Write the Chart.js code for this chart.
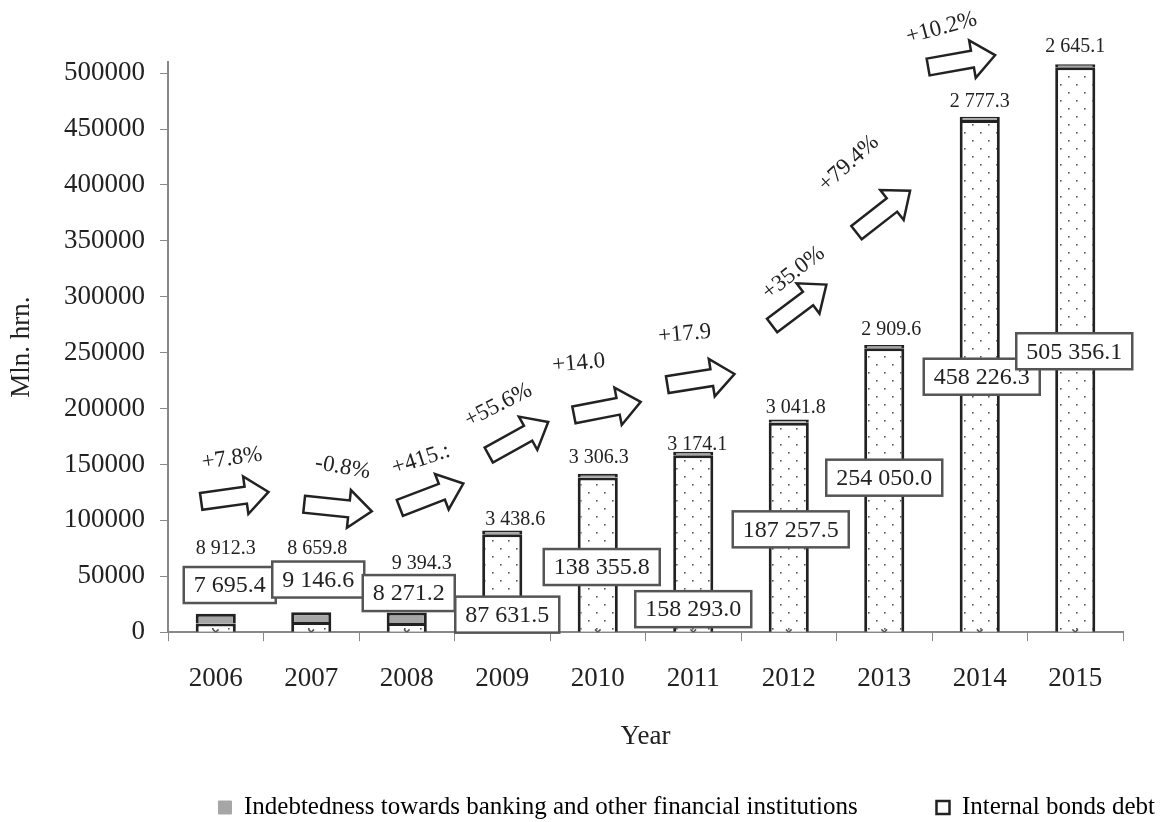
<!DOCTYPE html>
<html>
<head>
<meta charset="utf-8">
<script src="https://cdn.jsdelivr.net/npm/chart.js@4.4.1/dist/chart.umd.min.js"></script>
<style>
  body { margin: 0; background: #fff; }
  #wrap { width: 1168px; height: 822px; }
</style>
</head>
<body>
<div id="wrap"><canvas id="debtChart" width="1168" height="822"></canvas></div>
<script>
// Данные
const years = ["2006", "2007", "2008", "2009", "2010", "2011", "2012", "2013", "2014", "2015"];
const internalBonds = [7695.4, 9146.6, 8271.2, 87631.5, 138355.8, 158293.0, 187257.5, 254050.0, 458226.3, 505356.1];
const bankDebt = [8912.3, 8659.8, 9394.3, 3438.6, 3306.3, 3174.1, 3041.8, 2909.6, 2777.3, 2645.1];
const otherDebt = [0, 0, 0, 0, 0, 0, 0, 0, 0, 0];
const growthLabels = ["+7.8%", "-0.8%", "+415.:", "+55.6%", "+14.0", "+17.9", "+35.0%", "+79.4%", "+10.2%"];
const yTickValues = [0, 50000, 100000, 150000, 200000, 250000, 300000, 350000, 400000, 450000, 500000];

// Раскладка подписей: [сдвиг по x в px, уровень по оси y]
const bondBoxPos = [[14, 42200], [7, 47100], [2, 35000], [5, 15700], [4, 58300], [0, 20600], [2, 92000], [0, 138200], [2, 228500], [-1, 251300]];
const bankLabelPos = [[10, 74500], [6, 74500], [15, 61000], [13, 100500], [1, 156200], [4, 167900], [7, 201000], [7, 270200], [0, 474000], [0, 523300]];
// Стрелки и проценты: [позиция по категориям, уровень, угол]
const arrowPos = [[0.2, 121200, -8], [1.28, 111300, 6], [2.26, 122100, -21], [3.17, 173200, -29], [4.1, 200200, -11], [5.08, 226200, -9], [6.11, 292600, -37], [6.99, 376100, -38], [7.81, 510800, -10]];
const growthPos = [[0.17, 155300, -8], [1.33, 147200, 10], [2.15, 154400, -18], [2.96, 202900, -27], [3.8, 240600, -5], [4.91, 266600, -5], [6.05, 321400, -38], [6.63, 419200, -42], [7.6, 540400, -15]];

const FONT = '"Liberation Serif", "Times New Roman", serif';
const INK = "#222";

Chart.defaults.font.family = FONT;
Chart.defaults.color = INK;

// 7695.4 -> "7 695.4"
function fmt(v) {
  const [i, d] = v.toFixed(1).split(".");
  return i.replace(/\B(?=(\d{3})+(?!\d))/g, " ") + "." + d;
}

// Точечная заливка для облигаций
function makeDots() {
  const c = document.createElement("canvas");
  c.width = 16;
  c.height = 16;
  const g = c.getContext("2d");
  g.fillStyle = "#fff";
  g.fillRect(0, 0, 16, 16);
  g.fillStyle = "#555";
  g.fillRect(4, 4, 1.6, 1.6);
  g.fillRect(12, 12, 1.6, 1.6);
  return g.createPattern(c, "repeat");
}

function drawArrow(ctx, cx, cy, angle) {
  ctx.save();
  ctx.translate(cx, cy);
  ctx.rotate((angle * Math.PI) / 180);
  ctx.beginPath();
  ctx.moveTo(-34, -8.5);
  ctx.lineTo(11, -8.5);
  ctx.lineTo(11, -19);
  ctx.lineTo(34, 0);
  ctx.lineTo(11, 19);
  ctx.lineTo(11, 8.5);
  ctx.lineTo(-34, 8.5);
  ctx.closePath();
  ctx.fillStyle = "#fff";
  ctx.fill();
  ctx.lineWidth = 2.5;
  ctx.strokeStyle = INK;
  ctx.stroke();
  ctx.restore();
}

const annotations = {
  id: "annotations",
  afterDatasetsDraw(chart) {
    const { ctx, scales: { x, y } } = chart;
    ctx.save();
    ctx.textAlign = "center";
    ctx.textBaseline = "middle";

    // Облигации в рамках
    ctx.font = "24px " + FONT;
    internalBonds.forEach((v, i) => {
      const [dx, lv] = bondBoxPos[i];
      const cx = x.getPixelForValue(i) + dx;
      const cy = y.getPixelForValue(lv);
      const text = fmt(v);
      const w = ctx.measureText(text).width + 20;
      const h = 36;
      ctx.fillStyle = "#fff";
      ctx.fillRect(cx - w / 2, cy - h / 2, w, h);
      ctx.lineWidth = 2.5;
      ctx.strokeStyle = "#555";
      ctx.strokeRect(cx - w / 2, cy - h / 2, w, h);
      ctx.fillStyle = INK;
      ctx.fillText(text, cx, cy + 1);
    });

    // Долг банкам над столбиками
    ctx.font = "20px " + FONT;
    bankDebt.forEach((v, i) => {
      const [dx, lv] = bankLabelPos[i];
      ctx.fillText(fmt(v), x.getPixelForValue(i) + dx, y.getPixelForValue(lv));
    });

    // Стрелки
    arrowPos.forEach(([p, lv, a]) => {
      drawArrow(ctx, x.getPixelForValue(p), y.getPixelForValue(lv), a);
    });

    // Проценты
    ctx.font = "23px " + FONT;
    ctx.fillStyle = INK;
    growthLabels.forEach((t, i) => {
      const [p, lv, a] = growthPos[i];
      ctx.save();
      ctx.translate(x.getPixelForValue(p), y.getPixelForValue(lv));
      ctx.rotate((a * Math.PI) / 180);
      ctx.fillText(t, 0, 0);
      ctx.restore();
    });
    ctx.restore();
  },
};

const canvas = document.getElementById("debtChart");
const dots = makeDots();

new Chart(canvas, {
  data: {
    labels: years,
    datasets: [
      {
        type: "bar",
        label: "Internal bonds debt",
        data: internalBonds,
        backgroundColor: dots,
        borderColor: INK,
        borderWidth: 3,
        barPercentage: 0.42,
        categoryPercentage: 1,
        order: 1,
      },
      {
        type: "bar",
        label: "Indebtedness towards banking and other financial institutions",
        data: bankDebt,
        backgroundColor: "#a6a6a6",
        borderColor: INK,
        borderWidth: 3,
        barPercentage: 0.42,
        categoryPercentage: 1,
        order: 1,
      },
      {
        type: "line",
        label: "other",
        data: otherDebt,
        showLine: false,
        pointStyle: "crossRot",
        pointRadius: 4,
        borderColor: "#555",
        borderWidth: 1.5,
        order: 0,
      },
    ],
  },
  options: {
    responsive: false,
    animation: false,
    layout: { padding: { left: 2, top: 62, right: 3, bottom: -8 } },
    plugins: {
      tooltip: { enabled: false },
      legend: {
        position: "bottom",
        align: "end",
        labels: {
          font: { size: 25 },
          boxWidth: 13,
          boxHeight: 13,
          padding: 10,
          color: INK,
          generateLabels: () => [
            {
              text: "Indebtedness towards banking and other financial institutions" + " ".repeat(11),
              fillStyle: "#a6a6a6",
              strokeStyle: "#a6a6a6",
              lineWidth: 1,
              datasetIndex: 1,
            },
            {
              text: "Internal bonds debt",
              fillStyle: "#fff",
              strokeStyle: INK,
              lineWidth: 2.5,
              datasetIndex: 0,
            },
          ],
        },
      },
    },
    scales: {
      x: {
        stacked: true,
        grid: { drawOnChartArea: false, tickLength: 9, color: "#888", offset: true },
        border: { color: "#888", width: 2 },
        ticks: { font: { size: 27 }, padding: 22, color: INK },
        title: { display: true, text: "Year", font: { size: 27 }, color: INK, padding: { top: 3, bottom: 32 } },
      },
      y: {
        stacked: true,
        min: 0,
        max: 510000,
        grid: { drawOnChartArea: false, tickLength: 8, color: "#888" },
        border: { color: "#888", width: 2 },
        ticks: { font: { size: 27 }, padding: 15, color: INK, callback: (v) => String(v) },
        afterBuildTicks: (axis) => {
          axis.ticks = yTickValues.map((v) => ({ value: v }));
        },
        afterFit: (axis) => {
          axis.width = 166;
        },
        title: { display: true, text: "Mln. hrn.", font: { size: 27 }, color: INK, padding: { top: 4, bottom: 4 } },
      },
      yRight: {
        position: "right",
        display: true,
        grid: { display: false },
        border: { display: false },
        ticks: { display: false },
        afterFit: (axis) => {
          axis.width = 42;
        },
      },
    },
  },
  plugins: [annotations],
});
</script>
</body>
</html>
